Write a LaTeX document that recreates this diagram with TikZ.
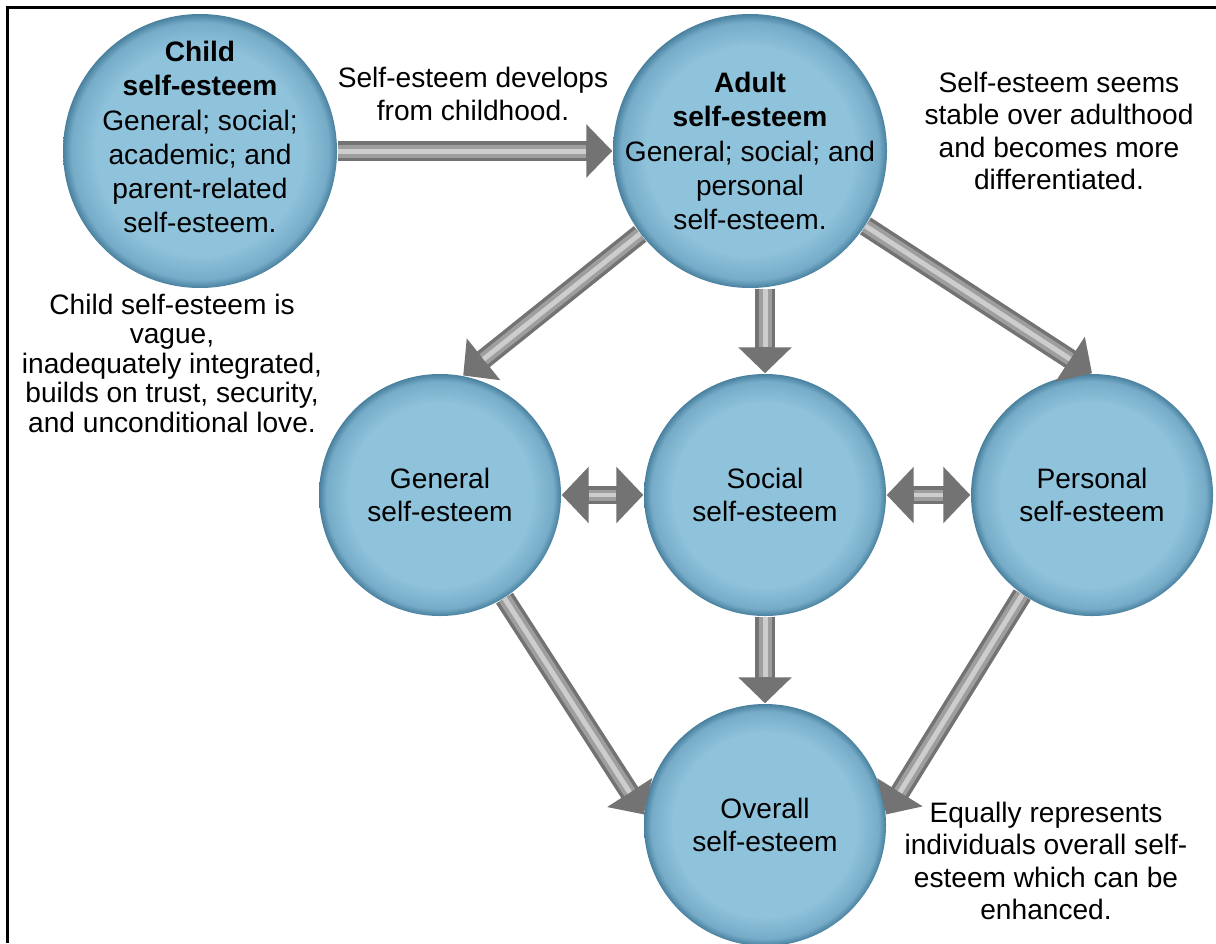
\documentclass[tikz,border=0pt]{standalone}
\usepackage{fontspec}
\setmainfont{Liberation Sans}
\usetikzlibrary{positioning,arrows.meta}
\definecolor{ballfill}{RGB}{143,194,219}
\definecolor{ballmid}{RGB}{118,172,200}
\definecolor{balledge}{RGB}{72,128,158}
\definecolor{arrowdark}{RGB}{115,115,115}
\definecolor{arrowmid}{RGB}{158,158,158}
\definecolor{arrowlight}{RGB}{205,205,205}
\pgfdeclareradialshading{ballrim}{\pgfpoint{0bp}{0bp}}{color(0bp)=(ballfill); color(19bp)=(ballfill); color(23.5bp)=(ballmid); color(25bp)=(balledge); color(50bp)=(balledge)}
\tikzset{
  bigball/.style={
    circle, shade, shading=ballrim, minimum size=27.4mm, inner sep=0mm
  },
  ball/.style={
    circle, shade, shading=ballrim, minimum size=24.2mm, inner sep=0mm, align=center,
    font=\fontsize{8pt}{9.4pt}\selectfont
  },
  balltext/.style={
    align=center, inner sep=0mm, font=\fontsize{8pt}{9.7pt}\selectfont
  },
  note/.style={
    align=center, inner sep=0mm, font=\fontsize{8pt}{9.2pt}\selectfont
  },
  bigarrow/.style={
    draw=arrowdark, line width=2mm, -{Triangle[length=2.6mm, width=5.2mm]},
    postaction={draw=arrowmid, line width=1.3mm, -, shorten >=2.6mm},
    postaction={draw=arrowlight, line width=0.5mm, -, shorten >=2.6mm}
  },
  twoarrow/.style={
    draw=arrowdark, line width=1.8mm,
    {Triangle[length=2.7mm, width=5.5mm]}-{Triangle[length=2.7mm, width=5.5mm]},
    postaction={draw=arrowmid, line width=1.1mm, -, shorten >=2.7mm, shorten <=2.7mm},
    postaction={draw=arrowlight, line width=0.4mm, -, shorten >=2.7mm, shorten <=2.7mm}
  }
}

\begin{document}
\begin{tikzpicture}
  \useasboundingbox (0, 0) rectangle (12.16, 9.43);
  \fill[white] (0, 0) rectangle (12.16, 9.43);
  \draw[line width=0.3mm] (0.07, 0) |- (12.16, 9.35);

  \node[bigball, label={[balltext, yshift=1.4mm]center:{\textbf{Child}\\\textbf{self-esteem}\\General; social;\\academic; and\\parent-related\\self-esteem.}}] (child) at (2.00, 7.92) {};
  \node[bigball, label={[balltext]center:{\textbf{Adult}\\\textbf{self-esteem}\\General; social; and\\personal\\self-esteem.}}] (adult) at (7.50, 7.92) {};
  \node[ball] (general) at (4.40, 4.48) {General\\self-esteem};
  \node[ball] (social) at (7.65, 4.48) {Social\\self-esteem};
  \node[ball] (personal) at (10.92, 4.48) {Personal\\self-esteem};
  \node[ball] (overall) at (7.65, 1.18) {Overall\\self-esteem};

  \node[note] (develops) at (4.73, 8.49) {Self-esteem develops\\from childhood.};
  \node[note] (stable) at (10.59, 8.12) {Self-esteem seems\\stable over adulthood\\and becomes more\\differentiated.};
  \node[note, font=\fontsize{8pt}{8.4pt}\selectfont] (vague) at (1.72, 5.80) {Child self-esteem is\\vague,\\inadequately integrated,\\builds on trust, security,\\and unconditional love.};
  \node[note] (equally) at (10.46, 0.82) {Equally represents\\individuals overall self-\\esteem which can be\\enhanced.};

  \draw[bigarrow] (child) -- (adult);
  \draw[bigarrow] (adult.217) -- (general.79);
  \draw[bigarrow] (adult.south -| social.north) -- (social.north);
  \draw[bigarrow] (adult.327) -- (personal.north);
  \draw[twoarrow] (general.east) -- (social.west);
  \draw[twoarrow] (social.east) -- (personal.west);
  \draw[bigarrow] (general.302) -- (overall.175);
  \draw[bigarrow] (social.south) -- (overall.north);
  \draw[bigarrow] (personal.235) -- (overall.5);
\end{tikzpicture}
\end{document}
